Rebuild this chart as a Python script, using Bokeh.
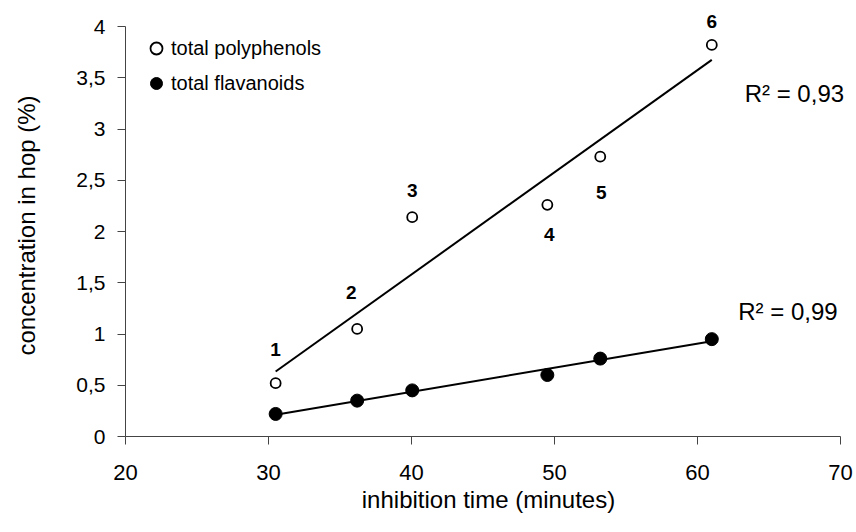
import numpy as np
from bokeh.plotting import figure
from bokeh.models import Range1d, FixedTicker, Legend, LegendItem, Label, LabelSet, ColumnDataSource
from bokeh.core.properties import value
from bokeh.embed import file_html
from bokeh.resources import INLINE

# ---- data ----
time_min = [30.5, 36.2, 40.05, 49.5, 53.2, 61.0]
polyphenols = [0.52, 1.05, 2.14, 2.26, 2.73, 3.82]
flavanoids = [0.22, 0.35, 0.45, 0.60, 0.76, 0.95]
sample_labels = ["1", "2", "3", "4", "5", "6"]
r2_poly = "R² = 0,93"
r2_flav = "R² = 0,99"
x_ticks = [20, 30, 40, 50, 60, 70]
y_ticks = [0, 0.5, 1, 1.5, 2, 2.5, 3, 3.5, 4]
y_tick_labels = ["0", "0,5", "1", "1,5", "2", "2,5", "3", "3,5", "4"]

# label offsets (style, screen pixels; positive = up)
lab_dx = [0, -6, 0, 2, 1, 0]
lab_dy = [34, 36, 27, -30, -36, 23]

FONT = "Liberation Sans"

# axis spans 20..70 and 0..4; the frame is a little larger so that labels are not clipped
PX_X = 14.3   # px per minute
PX_Y = 102.5  # px per unit
EXTRA_X, EXTRA_Y = 11, 12
x_end = 70 + EXTRA_X / PX_X
y_end = 4 + EXTRA_Y / PX_Y

p = figure(x_range=Range1d(20, x_end), y_range=Range1d(0, y_end),
           frame_width=715 + EXTRA_X, frame_height=410 + EXTRA_Y,
           min_border_left=125, min_border_right=4, min_border_top=26 - EXTRA_Y,
           min_border_bottom=90,
           output_backend="svg", toolbar_location=None,
           background_fill_color="white", border_fill_color="white")
p.outline_line_color = None
p.grid.visible = False

# axes
for ax in (p.xaxis[0], p.yaxis[0]):
    ax.axis_line_color = "#444444"
    ax.axis_line_width = 1
    ax.major_tick_line_color = "#444444"
    ax.major_tick_in = 0
    ax.major_tick_out = 8
    ax.minor_tick_line_color = None
    ax.major_label_text_font = FONT
    ax.major_label_text_color = "black"
    ax.axis_label_text_font = FONT
    ax.axis_label_text_font_style = "normal"
    ax.axis_label_text_color = "black"
    ax.axis_label_text_font_size = "24px"

p.xaxis.ticker = FixedTicker(ticks=x_ticks)
p.xaxis.bounds = (20, 70)
p.xaxis.major_label_text_font_size = "22px"
p.xaxis.major_label_standoff = 20
p.xaxis.axis_label = "inhibition time (minutes)"
p.xaxis.axis_label_standoff = 3

p.yaxis.ticker = FixedTicker(ticks=y_ticks)
p.yaxis.bounds = (0, 4)
p.yaxis.major_label_overrides = {t: l for t, l in zip(y_ticks, y_tick_labels)}
p.yaxis.major_label_text_font_size = "21px"
p.yaxis.major_label_standoff = 12
p.yaxis.axis_label = "concentration in hop (%)"
p.yaxis.axis_label_standoff = 33

# regression lines
x_arr = np.array(time_min)
xs_line = np.array([x_arr.min(), x_arr.max()])
cp = np.polyfit(x_arr, np.array(polyphenols), 1)
cf = np.polyfit(x_arr, np.array(flavanoids), 1)
p.line(xs_line, np.polyval(cp, xs_line), line_color="black", line_width=2)
p.line(xs_line, np.polyval(cf, xs_line), line_color="black", line_width=2)

src = ColumnDataSource(dict(x=time_min, yp=polyphenols, yf=flavanoids,
                            lab=sample_labels, dx=lab_dx, dy=lab_dy))
r_poly = p.scatter("x", "yp", source=src, size=10, marker="circle",
                   fill_color="white", line_color="black", line_width=1.8)
r_flav = p.scatter("x", "yf", source=src, size=13, marker="circle",
                   fill_color="black", line_color="black")

p.add_layout(LabelSet(x="x", y="yp", text="lab", source=src, x_offset="dx", y_offset="dy",
                      text_font=value(FONT), text_font_style="bold", text_font_size="19px",
                      text_align="center", text_baseline="middle", text_color="black"))

p.add_layout(Label(x=63.3, y=3.35, text=r2_poly, text_font=FONT, text_font_size="24px",
                   text_baseline="middle", text_align="left", text_color="black"))
p.add_layout(Label(x=62.85, y=1.22, text=r2_flav, text_font=FONT, text_font_size="24px",
                   text_baseline="middle", text_align="left", text_color="black"))

legend = Legend(items=[LegendItem(label="total polyphenols", renderers=[r_poly]),
                       LegendItem(label="total flavanoids", renderers=[r_flav])],
                location=(16, 338), padding=5, margin=0, spacing=5,
                glyph_width=30, glyph_height=30, label_standoff=0,
                label_text_font=FONT, label_text_font_size="20px", label_text_color="black",
                border_line_color=None, background_fill_alpha=0)
p.add_layout(legend)

open("out.html", "w").write(file_html(p, INLINE))
